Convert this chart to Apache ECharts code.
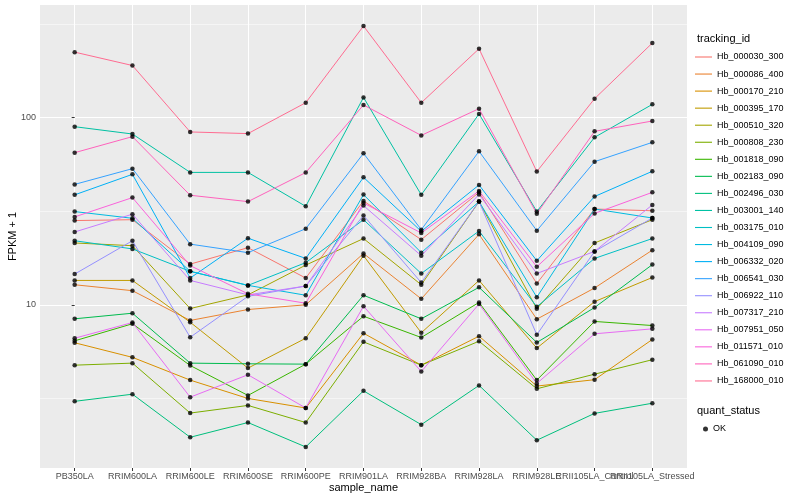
<!DOCTYPE html>
<html><head><meta charset="utf-8">
<script src="https://cdn.jsdelivr.net/npm/echarts@6/dist/echarts.min.js"></script>
<style>html,body{margin:0;padding:0;background:#fff}#c{width:800px;height:500px}</style>
</head><body><div id="c"></div>
<script>
const categories = ['PB350LA','RRIM600LA','RRIM600LE','RRIM600SE','RRIM600PE','RRIM901LA','RRIM928BA','RRIM928LA','RRIM928LE','RRII105LA_Control','RRII105LA_Stressed'];
const trackingIds = ['Hb_000030_300','Hb_000086_400','Hb_000170_210','Hb_000395_170','Hb_000510_320','Hb_000808_230','Hb_001818_090','Hb_002183_090','Hb_002496_030','Hb_003001_140','Hb_003175_010','Hb_004109_090','Hb_006332_020','Hb_006541_030','Hb_006922_110','Hb_007317_210','Hb_007951_050','Hb_011571_010','Hb_061090_010','Hb_168000_010'];
const lineColors = ['#F8766D','#EA8331','#D89000','#C09B00','#A3A500','#7CAE00','#39B600','#00BB4E','#00BF7D','#00C1A3','#00BFC4','#00BAE0','#00B0F6','#35A2FF','#9590FF','#C77CFF','#E76BF3','#FA62DB','#FF62BC','#FF6C91'];
const yTickValues = [10, 100];
const yMinorValues = [3.162, 31.62, 316.2];

const Hb_000030_300 = [28.2, 28.5, 16.5, 20.2, 13.9, 35.9, 22.3, 39.9, 13.0, 32.5, 31.8];
const Hb_000086_400 = [12.8, 11.9, 8.25, 9.44, 10.0, 18.8, 10.76, 23.8, 8.38, 12.3, 19.6];
const Hb_000170_210 = [6.27, 5.24, 3.96, 3.16, 2.81, 7.05, 4.76, 6.80, 3.68, 3.98, 6.53];
const Hb_000395_170 = [13.5, 13.5, 8.07, 4.59, 6.63, 18.3, 7.09, 13.5, 5.87, 10.4, 14.0];
const Hb_000510_320 = [21.4, 20.7, 9.55, 11.3, 16.3, 22.6, 12.8, 35.6, 9.52, 21.4, 28.5];
const Hb_000808_230 = [4.76, 4.88, 2.64, 2.90, 2.35, 6.34, 4.76, 6.39, 3.56, 4.26, 5.09];
const Hb_001818_090 = [6.42, 7.92, 4.74, 3.28, 4.82, 8.69, 6.69, 10.3, 3.96, 8.15, 7.75];
const Hb_002183_090 = [8.42, 9.02, 4.88, 4.84, 4.82, 11.25, 8.42, 12.4, 6.29, 9.67, 16.4];
const Hb_002496_030 = [3.05, 3.33, 1.96, 2.35, 1.74, 3.47, 2.29, 3.71, 1.89, 2.63, 2.98];
const Hb_003001_140 = [89.5, 81.8, 51.0, 51.0, 33.6, 128.3, 38.7, 104.7, 31.5, 78.5, 117.8];
const Hb_003175_010 = [22.0, 19.9, 15.1, 12.7, 16.8, 28.5, 14.7, 24.8, 9.76, 17.7, 22.6];
const Hb_004109_090 = [31.5, 29.0, 15.1, 12.7, 11.25, 38.8, 19.0, 35.6, 10.98, 32.5, 29.1];
const Hb_006332_020 = [38.7, 49.8, 13.9, 22.7, 17.7, 48.0, 24.7, 43.7, 17.2, 37.9, 51.7];
const Hb_006541_030 = [44.0, 53.4, 21.1, 19.0, 25.5, 64.5, 25.2, 66.1, 24.9, 58.2, 73.8];
const Hb_006922_110 = [14.6, 22.0, 6.71, 11.1, 12.6, 30.0, 13.15, 35.6, 6.92, 19.3, 29.1];
const Hb_007317_210 = [24.5, 30.5, 13.5, 11.3, 12.6, 33.9, 18.3, 38.9, 14.7, 19.3, 34.2];
const Hb_007951_050 = [6.63, 8.04, 3.21, 4.23, 2.81, 9.83, 4.40, 10.1, 3.80, 7.00, 7.44];
const Hb_011571_010 = [29.5, 37.4, 16.2, 11.45, 10.2, 35.0, 24.2, 40.6, 15.96, 30.8, 39.9];
const Hb_061090_010 = [65.0, 79.2, 38.5, 35.6, 50.9, 116.9, 80.4, 111.7, 30.7, 84.5, 96.0];
const Hb_168000_010 = [224, 190, 83.9, 82.2, 120.2, 308.8, 120.2, 233.5, 51.5, 126.3, 250.5];

const seriesValues = [Hb_000030_300, Hb_000086_400, Hb_000170_210, Hb_000395_170, Hb_000510_320, Hb_000808_230, Hb_001818_090, Hb_002183_090, Hb_002496_030, Hb_003001_140, Hb_003175_010, Hb_004109_090, Hb_006332_020, Hb_006541_030, Hb_006922_110, Hb_007317_210, Hb_007951_050, Hb_011571_010, Hb_061090_010, Hb_168000_010];

const idx = categories.map((c, i) => i);
const idxA = idx.filter(i => i % 2 === 0);
const idxB = idx.filter(i => i % 2 === 1);
const FONT = 'Liberation Sans, Arial, Helvetica, sans-serif';
const LINE_ICON = 'path://M0,0H17V1.1H0Z';

const series = trackingIds.map((id, k) => ({
  name: id,
  type: 'line',
  symbol: 'none',
  showSymbol: false,
  color: lineColors[k],
  lineStyle: { width: 1, color: lineColors[k] },
  data: seriesValues[k].map((v, i) => [i, v]),
  z: 2,
  animation: false
}));

const points = [];
seriesValues.forEach(arr => arr.forEach((v, i) => points.push([i, v])));
series.push({
  name: 'OK',
  type: 'scatter',
  symbol: 'circle',
  symbolSize: 4.5,
  color: '#000',
  itemStyle: { color: '#000' },
  data: points,
  z: 3,
  animation: false
});
series.push({
  type: 'line',
  data: [],
  z: 1,
  animation: false,
  markLine: {
    silent: true,
    z: 1,
    symbol: 'none',
    animation: false,
    label: { show: false },
    lineStyle: { color: '#ffffff', width: 0.5, type: 'solid' },
    emphasis: { disabled: true },
    data: yMinorValues.map(v => ({ yAxis: v }))
  }
});

function xAxisFor(vals, main) {
  return {
    type: 'value', min: -0.6, max: 10.6, position: 'bottom',
    axisLine: { show: false },
    axisTick: { show: true, length: 3, lineStyle: { color: '#333333' }, customValues: vals },
    axisLabel: { customValues: vals, formatter: v => categories[Math.round(v)], fontSize: 9, color: '#4D4D4D', margin: 4, fontFamily: FONT, hideOverlap: false },
    splitLine: { show: true, lineStyle: { color: '#ffffff', width: 1 } },
    name: main ? 'sample_name' : '', nameLocation: 'middle', nameGap: 14, nameMoveOverlap: false,
    nameTextStyle: { fontSize: 11, color: '#000', fontFamily: FONT }
  };
}

const chart = echarts.init(document.getElementById('c'), null, { renderer: 'canvas' });
chart.setOption({
  animation: false,
  backgroundColor: '#ffffff',
  textStyle: { fontFamily: FONT },
  title: [
    { text: 'tracking_id', left: 697, top: 33, padding: 0, textStyle: { fontSize: 11, fontWeight: 'normal', color: '#000', fontFamily: FONT } },
    { text: 'quant_status', left: 697, top: 405, padding: 0, textStyle: { fontSize: 11, fontWeight: 'normal', color: '#000', fontFamily: FONT } }
  ],
  legend: [
    {
      data: trackingIds.map((id, k) => ({ name: id, icon: LINE_ICON, itemStyle: { color: lineColors[k] } })),
      orient: 'vertical',
      left: 695, top: 52.5,
      padding: 0,
      itemWidth: 17, itemHeight: 17, itemGap: 8.05,
      symbolKeepAspect: true,
      selectedMode: false,
      textStyle: { fontSize: 9, color: '#000', fontFamily: FONT }
    },
    {
      data: ['OK'],
      orient: 'vertical',
      left: 703, top: 424.5,
      padding: 0,
      itemWidth: 5, itemHeight: 5, itemGap: 0,
      icon: 'circle',
      selectedMode: false,
      textStyle: { fontSize: 9, color: '#000', fontFamily: FONT }
    }
  ],
  grid: { left: 40, right: 113, top: 5, bottom: 32, show: true, backgroundColor: '#EBEBEB', borderWidth: 0, containLabel: false, outerBoundsMode: 'none' },
  xAxis: [xAxisFor(idxA, true), xAxisFor(idxB, false)],
  yAxis: {
    type: 'log', logBase: 10, min: 1.343, max: 400,
    axisLine: { show: false },
    axisTick: { show: true, length: 3, lineStyle: { color: '#333333' }, customValues: yTickValues },
    axisLabel: { customValues: yTickValues, fontSize: 9, color: '#4D4D4D', margin: 4, fontFamily: FONT },
    splitLine: { show: true, lineStyle: { color: '#ffffff', width: 1 } },
    minorSplitLine: { show: false },
    name: 'FPKM + 1', nameLocation: 'middle', nameGap: 22, nameRotate: 90, nameMoveOverlap: false,
    nameTextStyle: { fontSize: 11, color: '#000', fontFamily: FONT }
  },
  series: series
});
</script>
</body></html>
